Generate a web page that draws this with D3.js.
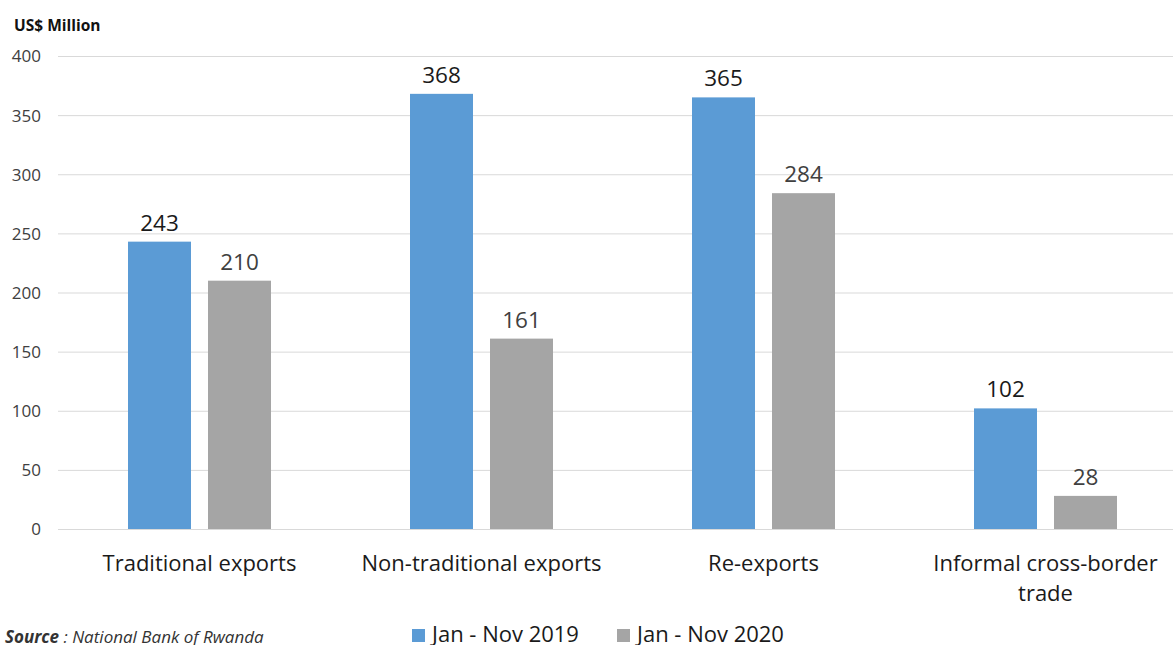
<!DOCTYPE html>
<html><head><meta charset="utf-8">
<script src="https://cdn.jsdelivr.net/npm/d3@7"></script>
<style>body{margin:0;background:#fff;overflow:hidden}svg{display:block}text{font-family:"Open Sans",Calibri,sans-serif}</style>
</head><body>
<script>
const categories = ["Traditional exports","Non-traditional exports","Re-exports","Informal cross-border trade"];
const seriesNames = ["Jan - Nov 2019","Jan - Nov 2020"];
const values2019 = [243,368,365,102];
const values2020 = [210,161,284,28];
const yTicks = [0,50,100,150,200,250,300,350,400];
const colors = ["#5B9BD5","#A5A5A5"];

const W=1173,H=645;
const svg=d3.select("body").append("svg").attr("width",W).attr("height",H);
const y=d3.scaleLinear().domain([0,400]).range([529,56]);
const x=d3.scaleBand().domain(categories).range([58.5,1186.5]).paddingInner(0).paddingOuter(0);
const xs=d3.scaleBand().domain(seriesNames).range([69.5,212.5]).paddingInner(17/80).paddingOuter(0);

// gridlines
svg.append("g").selectAll("line").data(yTicks).join("line")
  .attr("x1",58).attr("x2",W).attr("y1",d=>y(d)+0.5).attr("y2",d=>y(d)+0.5)
  .attr("stroke","#d9d9d9").attr("stroke-width",1);

// y axis labels
const yAxis=d3.axisLeft(y).tickValues(yTicks).tickSize(0).tickPadding(0);
const ga=svg.append("g").attr("transform","translate(41,0)").call(yAxis);
ga.select(".domain").remove();
ga.selectAll("text").attr("font-size",17).attr("fill","#404040").attr("font-family","'Open Sans',sans-serif").attr("dy","0.35em");

svg.append("text").attr("x",14).attr("y",31).attr("font-size",15.5).attr("font-weight","bold").attr("fill","#111").text("US$ Million");

const data=categories.map((c,i)=>({c,vals:[values2019[i],values2020[i]]}));
const groups=svg.append("g").selectAll("g").data(data).join("g").attr("transform",d=>`translate(${x(d.c)},0)`);
groups.selectAll("rect").data(d=>d.vals.map((v,j)=>({v,s:seriesNames[j],j}))).join("rect")
  .attr("x",d=>xs(d.s)).attr("width",xs.bandwidth())
  .attr("y",d=>y(d.v)).attr("height",d=>y(0)-y(d.v)).attr("fill",d=>colors[d.j]);
groups.selectAll("text.v").data(d=>d.vals.map((v,j)=>({v,s:seriesNames[j],j}))).join("text").attr("class","v")
  .attr("x",d=>xs(d.s)+xs.bandwidth()/2).attr("y",d=>y(d.v)-11)
  .attr("text-anchor","middle").attr("font-size",22.5).attr("fill",d=>d.j===0?"#1a1a1a":"#404040").text(d=>d.v);

// category labels
const catLines={"Informal cross-border trade":["Informal cross-border","trade"]};
groups.each(function(d){
  const lines=catLines[d.c]||[d.c];
  const t=d3.select(this).append("text").attr("text-anchor","middle").attr("font-size",22).attr("fill","#1a1a1a");
  lines.forEach((l,i)=>t.append("tspan").attr("x",141).attr("y",571+i*30).text(l));
});

// legend
const lg=svg.append("g");
const legX=[412,617];
seriesNames.forEach((s,i)=>{
  lg.append("rect").attr("x",legX[i]).attr("y",629).attr("width",13).attr("height",13).attr("fill",colors[i]);
  lg.append("text").attr("x",legX[i]+20).attr("y",642).attr("font-size",22).attr("fill","#1a1a1a").text(s);
});

// source
const src=svg.append("text").attr("x",5).attr("y",643).attr("font-size",17).attr("font-style","italic").attr("fill","#333");
src.append("tspan").attr("font-weight","bold").text("Source");
src.append("tspan").text(" : National Bank of Rwanda");
</script>
</body></html>
